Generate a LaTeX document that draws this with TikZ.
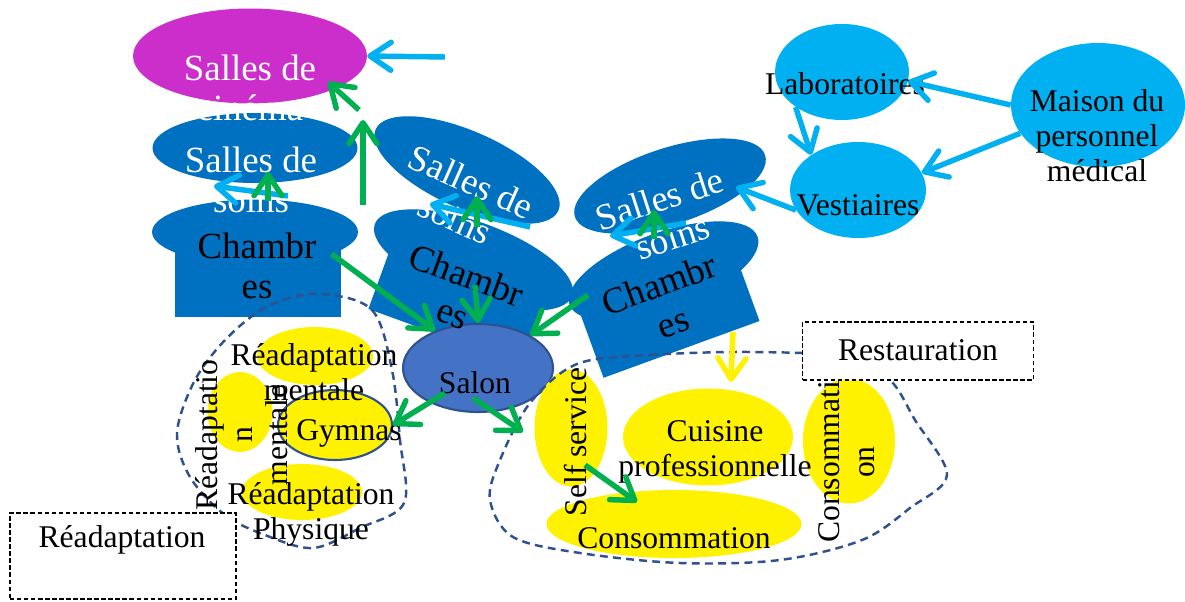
\documentclass[tikz,border=0pt]{standalone}
\usepackage{fontspec}
\setmainfont{Liberation Serif}
\usetikzlibrary{shapes.geometric,arrows.meta}
\definecolor{roomblue}{HTML}{0070C0}
\definecolor{skyblue}{HTML}{00B0F0}
\definecolor{flowgreen}{HTML}{00B050}
\definecolor{cinemamag}{RGB}{204,46,204}
\definecolor{salonblue}{HTML}{4472C4}
\definecolor{edgeblue}{HTML}{2F528F}

\begin{document}
\begin{tikzpicture}[x=0.02cm, y=-0.02cm,
    blob/.style={ellipse, inner sep=0pt},
    room/.style={blob, fill=roomblue},
    body/.style={rectangle, fill=roomblue, inner sep=0pt},
    sun/.style={blob, fill=yellow},
    sky/.style={blob, fill=skyblue},
    txt/.style={align=center, font=\fontsize{18}{20}\selectfont},
    big/.style={align=center, font=\fontsize{21}{23}\selectfont},
    zone/.style={draw=edgeblue, line width=1.4pt, dash pattern=on 4.5pt off 3pt},
    tag/.style={draw, fill=white, line width=0.8pt, dash pattern=on 2.5pt off 1.5pt, inner sep=0pt},
    flow/.style={line width=3.1pt, -{Straight Barb[length=4.2mm, width=5.6mm, round]}}]
    \useasboundingbox (0,0) rectangle (1185,601);

    % rooms
    \node[body, minimum width=3.32cm, minimum height=1.6cm] (ch1) at (258,277) {};
    \node[room, minimum width=4.12cm, minimum height=1.3cm] (ch1cap) at (255,232) {};
    \begin{scope}[shift={(468,275)}, rotate=-20, transform shape]
        \node[body, minimum width=3.24cm, minimum height=1.52cm] (ch2) at (-1,28) {};
        \node[room, minimum width=4.2cm, minimum height=1.52cm] (ch2cap) at (0,-16) {};
    \end{scope}
    \begin{scope}[shift={(661,293)}, rotate=20, transform shape]
        \node[body, minimum width=3.32cm, minimum height=1.4cm] (ch3) at (0,25) {};
        \node[room, minimum width=4cm, minimum height=1.52cm] (ch3cap) at (10,-20) {};
    \end{scope}
    \node[room, minimum width=4.1cm, minimum height=1.4cm] (soins1) at (255,148) {};
    \node[room, rotate=-24, minimum width=4cm, minimum height=1.54cm] (soins2) at (467,170) {};
    \node[room, rotate=18, minimum width=4cm, minimum height=1.52cm] (soins3) at (670,186) {};
    \node[blob, fill=cinemamag, minimum width=4.68cm, minimum height=1.9cm] (cinema) at (250,56) {};

    \node[blob, fill=salonblue, draw=edgeblue, line width=1.2pt, minimum width=3cm, minimum height=1.76cm] (salon) at (478,368) {};
    \node[sky, minimum width=2.68cm, minimum height=1.92cm] (labo) at (842,72) {};
    \node[sky, minimum width=2.72cm, minimum height=1.92cm] (vest) at (858,190) {};
    \node[sky, minimum width=3.48cm, minimum height=2.48cm] (maison) at (1098,105) {};

    \node[sun, minimum width=2.32cm, minimum height=1.16cm] (mentale) at (315,356) {};
    \node[sun, minimum width=1.3cm, minimum height=1.6cm] (readapt) at (240,412) {};
    \node[sun, draw=edgeblue, line width=1.2pt, minimum width=2.28cm, minimum height=1.4cm] (gym) at (335,425) {};
    \node[sun, minimum width=2.4cm, minimum height=1.12cm] (physique) at (302,492) {};
    \node[sun, minimum width=1.46cm, minimum height=2.34cm] (self) at (571,428) {};
    \node[sun, minimum width=3.4cm, minimum height=1.94cm] (cuisine) at (708,437) {};
    \node[sun, minimum width=5.1cm, minimum height=1.36cm] (conso) at (674,524) {};
    \node[sun, minimum width=1.84cm, minimum height=2.5cm] (consoside) at (849,441) {};

    % groups
    \draw[zone] plot[smooth cycle, tension=0.55] coordinates {(320,294) (372,310) (392,370) (400,440) (404,503) (360,528) (313,548) (265,535) (225,515) (190,477) (177,433) (195,380) (228,337) (270,305)};
    \draw[zone] plot[smooth cycle, tension=0.55] coordinates {(577,364) (650,355) (750,352) (848,357) (890,380) (915,420) (947,475) (910,508) (862,540) (780,560) (680,563) (580,553) (513,537) (490,500) (500,460) (530,403)};
    \node[tag, minimum width=4.52cm, minimum height=1.72cm] (readbox) at (123,556) {};
    \node[tag, minimum width=4.62cm, minimum height=1.16cm] (restbox) at (918,351) {};

    % labels
    \node[big, text=white] (cinema-t) at (250,88) {Salles de\\cinéma};
    \node[big, text=white] (soins1-t) at (251,180) {Salles de\\soins};
    \node[big, text=white, rotate=-24] (soins2-t) at (463,200) {Salles de\\soins};
    \node[big, text=white, rotate=18] (soins3-t) at (666,218) {Salles de\\soins};
    \node[big] (ch1-t) at (257,266) {Chambr\\es};
    \node[big, rotate=-20] (ch2-t) at (460,294) {Chambr\\es};
    \node[big, rotate=20] (ch3-t) at (666,303) {Chambr\\es};
    \node[txt] (salon-t) at (475,383) {Salon};
    \node[txt] (labo-t) at (845,84) {Laboratoires};
    \node[txt] (vest-t) at (858,205) {Vestiaires};
    \node[txt] (maison-t) at (1097,136) {Maison du\\personnel\\médical};
    \node[txt] (mentale-t) at (314,372) {Réadaptation\\mentale};
    \node[txt, rotate=90] (readapt-t) at (242,435) {Réadaptatio\\n\\mentale};
    \node[txt] (gym-t) at (349,433) {Gymnas};
    \node[txt] (physique-t) at (311,514) {Réadaptation\\Physique};
    \node[txt, rotate=90] (self-t) at (576,442) {Self service};
    \node[txt] (cuisine-t) at (715,452) {Cuisine\\professionnelle};
    \node[txt] (conso-t) at (674,538) {Consommation};
    \node[txt, rotate=90] (consoside-t) at (847,462) {Consommati\\on};
    \node[txt] (readbox-t) at (122,540) {Réadaptation};
    \node[txt] (restbox-t) at (918,350) {Restauration};

    % free ends
    \coordinate (cin-in) at (445,57);
    \coordinate (s1-a) at (288,196);
    \coordinate (s1-b) at (214,186);
    \coordinate (s2-a) at (530,227);
    \coordinate (s2-b) at (430,204);
    \coordinate (s3-a) at (686,223);
    \coordinate (s3-b) at (610,236);
    \coordinate (s3-in) at (736,187);
    \coordinate (up-a) at (363,205);
    \coordinate (up-b) at (363,120);
    \coordinate (up-c) at (359,110);
    \coordinate (cin-tip) at (328,82);
    \coordinate (g1-a) at (268,201);
    \coordinate (g1-b) at (268,172);
    \coordinate (g2-a) at (477,227);
    \coordinate (g2-b) at (477,196);
    \coordinate (g3-a) at (654,239);
    \coordinate (g3-b) at (654,210);
    \coordinate (ch2-out) at (475,285);
    \coordinate (ch3-out) at (588,295);
    \coordinate (salon-l) at (445,393);
    \coordinate (salon-r) at (473,398);
    \coordinate (self-in) at (523,432);
    \coordinate (self-out) at (585,465);
    \coordinate (conso-in) at (637,502);
    \coordinate (ch3-low) at (733,332);
    \coordinate (cuis-in) at (731,382);

    \path[flow, skyblue]
    (cin-in) edge (cinema.east)
    (s1-a) edge (s1-b)
    (s2-a) edge (s2-b)
    (s3-a) edge (s3-b)
    (vest.198) edge (s3-in)
    (maison.west) edge (labo.-8)
    (maison.200) edge (vest.15)
    (labo.-143) edge (vest.143);

    \path[flow, flowgreen]
    (up-a) edge (up-b)
    (up-c) edge (cin-tip)
    (g1-a) edge (g1-b)
    (g2-a) edge (g2-b)
    (g3-a) edge (g3-b)
    (ch1cap.-16) edge (salon.139)
    (ch2-out) edge (salon.north)
    (ch3-out) edge (salon.32)
    (salon-l) edge (gym.east)
    (salon-r) edge (self-in)
    (self-out) edge (conso-in);

    \path[flow, yellow] (ch3-low) edge (cuis-in);
\end{tikzpicture}
\end{document}
